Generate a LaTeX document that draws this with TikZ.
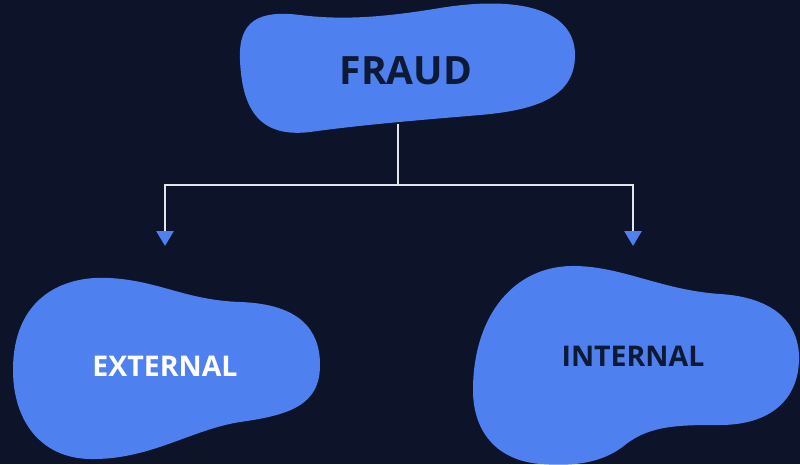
\documentclass[tikz,border=0pt]{standalone}
\usepackage{fontspec}
\setmainfont{Open Sans}
\usetikzlibrary{arrows.meta}

\definecolor{navy}{HTML}{0D1429}
\definecolor{blobblue}{HTML}{4F80EF}
\definecolor{inkdark}{HTML}{0D1A36}
\definecolor{linkgrey}{HTML}{E2E6EC}

\tikzset{
  blob/.style={fill=blobblue},
  label/.style={font=\bfseries\fontsize{#1}{#1}\selectfont, inner sep=0pt},
  link/.style={draw=linkgrey, line width=2.8pt,
    -{Triangle[color=blobblue,width=17pt,length=15pt]}},
}

\begin{document}
\begin{tikzpicture}[x=1pt,y=-1pt]

        \fill[navy] (0,0) rectangle (800,464);
        \useasboundingbox (0,0) rectangle (800,464);

        % blobs
        \fill[blob] (240,60) .. controls (238,20) and (260,10) .. (300,15)
          .. controls (340,20) and (380,18) .. (440,8)
          .. controls (520,-5) and (575,10) .. (575,55)
          .. controls (575,95) and (540,110) .. (480,115)
          .. controls (420,120) and (360,125) .. (310,132)
          .. controls (260,138) and (242,110) .. (240,60) -- cycle;
        \fill[blob] (13,370) .. controls (13,300) and (60,275) .. (110,278)
          .. controls (160,281) and (185,300) .. (240,302)
          .. controls (300,304) and (320,330) .. (320,365)
          .. controls (320,405) and (290,415) .. (240,422)
          .. controls (190,430) and (150,460) .. (90,459)
          .. controls (40,458) and (13,420) .. (13,370) -- cycle;
        \fill[blob] (473,390) .. controls (473,320) and (510,268) .. (570,266)
          .. controls (620,265) and (660,290) .. (720,294)
          .. controls (770,297) and (800,320) .. (799,360)
          .. controls (798,400) and (770,425) .. (720,425)
          .. controls (680,425) and (650,425) .. (625,445)
          .. controls (600,465) and (570,466) .. (540,464)
          .. controls (495,460) and (473,430) .. (473,390) -- cycle;

        % labels
        \node[label=39, text=inkdark] (fraud)    at (406,71)  {FRAUD};
        \node[label=28.5, text=white]   (external) at (165,366) {EXTERNAL};
        \node[label=28.5, text=inkdark] (internal) at (633,356) {INTERNAL};

        % connectors
        \coordinate (fraudbot) at (398,124);
        \coordinate (fork)     at (398,185);
        \coordinate (exttip)   at (165,246);
        \coordinate (inttip)   at (633,246);
        \draw[link] (fraudbot) -- (fork) -| (exttip);
        \draw[link] (fork) -| (inttip);

\end{tikzpicture}
\end{document}
